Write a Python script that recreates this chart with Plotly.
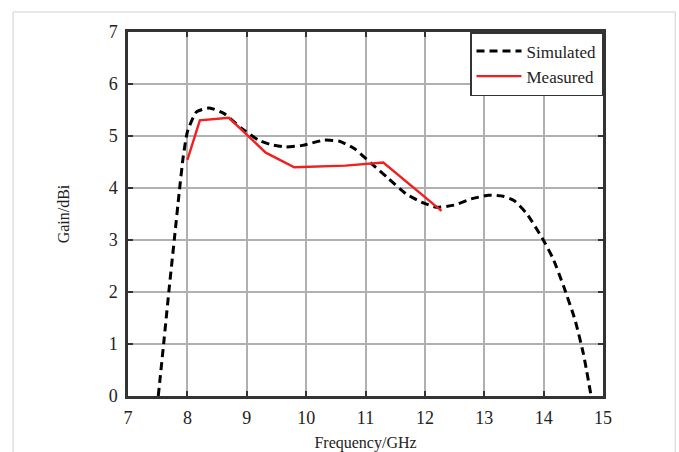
import plotly.graph_objects as go

sim_freq = [7.51, 7.60, 7.69, 7.79, 7.86, 7.93, 8.00, 8.15, 8.37, 8.62, 8.92, 9.20, 9.39, 9.64, 9.94,
            10.30, 10.56, 10.81, 11.10, 11.39, 11.68, 11.94, 12.19, 12.49, 12.78, 13.07, 13.32, 13.50,
            13.72, 13.98, 14.16, 14.34, 14.53, 14.67, 14.80]
sim_gain = [0.0, 1.0, 2.03, 3.12, 3.89, 4.6, 5.08, 5.46, 5.54, 5.43, 5.14, 4.92, 4.84, 4.79, 4.82,
            4.92, 4.90, 4.76, 4.47, 4.18, 3.89, 3.73, 3.63, 3.67, 3.79, 3.86, 3.84, 3.76,
            3.50, 3.03, 2.64, 2.10, 1.46, 0.81, 0.0]

meas_freq = [8.0, 8.21, 8.70, 9.32, 9.80, 10.66, 11.30, 12.28]
meas_gain = [4.54, 5.30, 5.35, 4.68, 4.40, 4.43, 4.49, 3.56]

x_ticks = [7, 8, 9, 10, 11, 12, 13, 14, 15]
y_ticks = [0, 1, 2, 3, 4, 5, 6, 7]

FONT = "Liberation Serif"

fig = go.Figure()
fig.add_trace(go.Scatter(x=sim_freq, y=sim_gain, mode="lines", name="Simulated",
                         line=dict(color="black", width=3, dash="8px,5px", shape="spline", smoothing=0.5)))
fig.add_trace(go.Scatter(x=meas_freq, y=meas_gain, mode="lines", name="Measured",
                         line=dict(color="#f02020", width=2.4)))

axis_common = dict(showgrid=True, gridcolor="#b0b0b0", gridwidth=1.5,
                   showline=True, linecolor="#333333", linewidth=2.5, mirror="ticks",
                   ticks="inside", ticklen=5, tickwidth=2, tickcolor="#333333",
                   zeroline=False, automargin=False,
                   tickfont=dict(family=FONT, size=18, color="#222222"))

fig.update_layout(
    width=679, height=452,
    margin=dict(l=128, r=76, t=32, b=56),
    paper_bgcolor="white", plot_bgcolor="white",
    font=dict(family=FONT, color="#222222"),
    xaxis=dict(range=[7, 15], tickvals=x_ticks, ticklabelstandoff=4,
               title=dict(text="Frequency/GHz", font=dict(family=FONT, size=16), standoff=16),
               **axis_common),
    yaxis=dict(range=[0, 7], tickvals=y_ticks, ticklabelstandoff=4,
               title=dict(text="Gain/dBi", font=dict(family=FONT, size=16), standoff=36),
               **axis_common),
    legend=dict(x=1, y=1, xanchor="right", yanchor="top",
                bgcolor="white", bordercolor="#333333", borderwidth=1.5,
                font=dict(family=FONT, size=17, color="#222222"),
                itemwidth=45, tracegroupgap=0),
    showlegend=True,
    shapes=[dict(type="rect", xref="paper", yref="paper",
                 x0=-0.242, x1=1.152, y0=-0.2, y1=1.055,
                 line=dict(color="#d0d0d0", width=1), layer="below")],
)

fig.write_html("out.html")
